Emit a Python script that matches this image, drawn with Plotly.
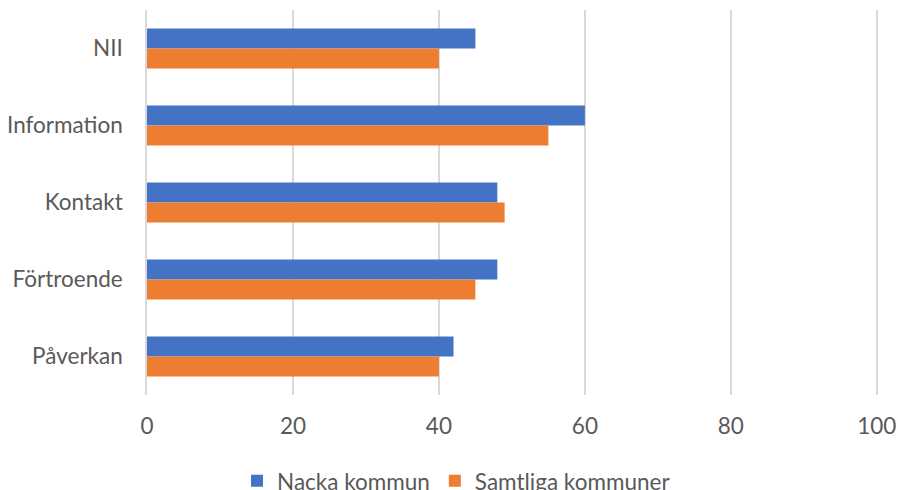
import plotly.graph_objects as go

categories = ['NII', 'Information', 'Kontakt', 'Förtroende', 'Påverkan']
nacka = [45, 60, 48, 48, 42]
samtliga = [40, 55, 49, 45, 40]
x_ticks = [0, 20, 40, 60, 80, 100]

FONT = 'Lato'
GREY = '#595959'
GRID = '#D9D9D9'

fig = go.Figure()
fig.add_trace(go.Bar(
    y=categories, x=nacka, orientation='h',
    name='Nacka kommun', marker=dict(color='#4472C4', line=dict(width=0))
))
fig.add_trace(go.Bar(
    y=categories, x=samtliga, orientation='h',
    name='Samtliga kommuner', marker=dict(color='#ED7D31', line=dict(width=0))
))

fig.update_layout(
    width=898, height=490,
    margin=dict(l=147, r=19, t=10, b=95, autoexpand=False),
    paper_bgcolor='white', plot_bgcolor='white',
    barmode='group', bargap=0.48, bargroupgap=0,
    font=dict(family=FONT, size=22.5, color=GREY),
    legend=dict(orientation='h', x=0.123, xanchor='left', y=-0.168, yanchor='top',
                font=dict(size=22.5, color=GREY), itemwidth=30, traceorder='normal'),
    # a little headroom past 100 so plotly keeps the last gridline
    xaxis=dict(range=[0, 100.3], tickvals=x_ticks, showgrid=True, automargin=False,
               gridcolor=GRID, gridwidth=1.5, zeroline=False,
               ticks='outside', ticklen=11, tickcolor='rgba(0,0,0,0)'),
    yaxis=dict(autorange='reversed', showline=True, linecolor=GRID, linewidth=1.5,
               automargin=False,
               ticks='outside', ticklen=18, tickcolor='rgba(0,0,0,0)'),
)

# drop the browser's default body margin so the figure fills the window
fig.write_html('out.html', config={'displayModeBar': False},
               post_script="document.body.style.margin = '0';")
